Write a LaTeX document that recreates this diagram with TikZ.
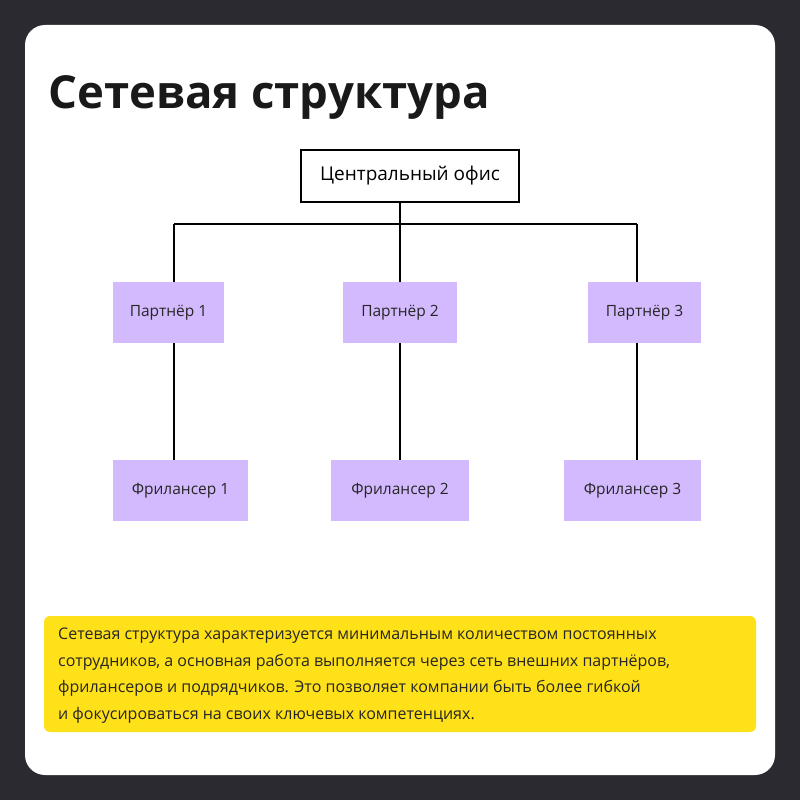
\documentclass[tikz,border=0pt]{standalone}
\usepackage{fontspec}
\setmainfont{Open Sans}
\usetikzlibrary{positioning,calc}
\definecolor{bgdark}{HTML}{2A2A30}
\definecolor{lav}{HTML}{D3B9FE}
\definecolor{yel}{HTML}{FFE11A}
\begin{document}
\begin{tikzpicture}[x=1pt,y=-1pt,
    box/.style={fill=lav,minimum height=61pt,inner sep=0pt,font=\fontsize{15.5}{18}\selectfont,text=black!85},
    link/.style={draw=black,line width=1.2pt}]
    \fill[bgdark] (0,0) rectangle (800,800);
    \fill[white,rounded corners=20pt] (25,25) rectangle (775,775);
    \useasboundingbox (0,0) rectangle (800,800);

    \node[anchor=base west,font=\fontsize{45.5}{52}\selectfont\bfseries,text=black!90] (title) at (45,108) {Сетевая структура};

    \node[draw=black,line width=1.2pt,fill=white,minimum width=218pt,minimum height=52pt,
          font=\fontsize{19}{22}\selectfont] (office) at (410,176) {Центральный офис};

    \node[box,minimum width=111pt] (p1) at (168.5,312.5) {Партнёр 1};
    \node[box,minimum width=114pt] (p2) at (400,312.5) {Партнёр 2};
    \node[box,minimum width=113pt] (p3) at (644.5,312.5) {Партнёр 3};

    \node[box,minimum width=135pt] (f1) at (180.5,490.5) {Фрилансер 1};
    \node[box,minimum width=138pt] (f2) at (400,490.5) {Фрилансер 2};
    \node[box,minimum width=137pt] (f3) at (632.5,490.5) {Фрилансер 3};

    % connectors
    \coordinate (j) at (400,224);
    \coordinate (j1) at (174,224);
    \coordinate (j3) at (637,224);
    \draw[link] (office.south -| j) -- (j);
    \draw[link] (j1) -- (j3);
    \draw[link] (j1) -- (j1 |- p1.north);
    \draw[link] (j) -- (p2.north);
    \draw[link] (j3) -- (j3 |- p3.north);
    \draw[link] (j1 |- p1.south) -- (j1 |- f1.north);
    \draw[link] (p2.south) -- (f2.north);
    \draw[link] (j3 |- p3.south) -- (j3 |- f3.north);

    \fill[yel,rounded corners=6pt] (44,616) rectangle (756,732);
    \node[anchor=north west,align=left,inner sep=0pt,text=black!85,
          font=\fontsize{16}{26.5}\selectfont] (note) at (58,628)
    {Сетевая структура характеризуется минимальным количеством постоянных\\
     сотрудников, а основная работа выполняется через сеть внешних партнёров,\\
     фрилансеров и подрядчиков. Это позволяет компании быть более гибкой\\
     и фокусироваться на своих ключевых компетенциях.};
\end{tikzpicture}
\end{document}
